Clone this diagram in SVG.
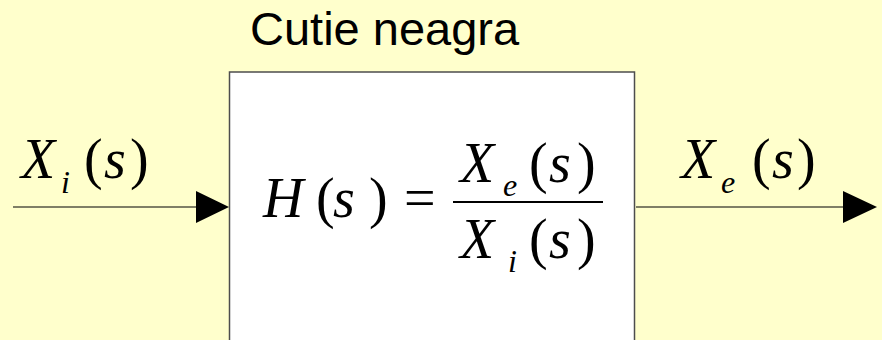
<svg xmlns="http://www.w3.org/2000/svg" width="882" height="340" viewBox="0 0 882 340">
<style>
text.m{font-family:'Liberation Serif','Times New Roman',serif;font-size:56px;fill:#000}
text.it{font-style:italic}
text.sub{font-family:'Liberation Serif','Times New Roman',serif;font-size:32px;font-style:italic;fill:#000}
text.title{font-family:'Liberation Sans',Arial,sans-serif;font-size:47px;fill:#000}
.conn{stroke:#000;stroke-width:1.2;fill:none}
</style>
<rect x="0" y="0" width="882" height="340" fill="#FFFFCC"/>
<g id="title"><text class="title" x="250" y="45">Cutie neagra</text></g>
<g id="box">
<rect x="229.5" y="72" width="405" height="280" fill="#FFFFFF" stroke="#4d4d4d" stroke-width="1.5"/>
<text class="m it" x="263" y="217">H</text>
<text class="m" x="316" y="217">(</text>
<text class="m it" x="333" y="217">s</text>
<text class="m" x="369" y="217">)</text>
<text class="m" x="404" y="217">=</text>
<line x1="453" y1="202" x2="603" y2="202" stroke="#000" stroke-width="2"/>
<text class="m it" x="460" y="182">X</text>
<text class="sub" x="503" y="196">e</text>
<text class="m" x="529" y="182">(</text>
<text class="m it" x="549" y="182">s</text>
<text class="m" x="577" y="182">)</text>
<text class="m it" x="460" y="258">X</text>
<text class="sub" x="508" y="272">i</text>
<text class="m" x="529" y="258">(</text>
<text class="m it" x="549" y="258">s</text>
<text class="m" x="577" y="258">)</text>
</g>
<g id="input-label">
<text class="m it" x="21" y="178">X</text>
<text class="sub" x="61" y="193">i</text>
<text class="m" x="84" y="178">(</text>
<text class="m it" x="104" y="178">s</text>
<text class="m" x="130" y="178">)</text>
</g>
<g id="output-label">
<text class="m it" x="681" y="178">X</text>
<text class="sub" x="721" y="193">e</text>
<text class="m" x="752" y="178">(</text>
<text class="m it" x="772" y="178">s</text>
<text class="m" x="797" y="178">)</text>
</g>
<g id="connectors">
<line class="conn" x1="13" y1="207" x2="197" y2="207"/>
<polygon points="196,191 229,207 196,223" fill="#000"/>
<line class="conn" x1="636" y1="207" x2="844" y2="207"/>
<polygon points="843,191 877,207 843,223" fill="#000"/>
</g>
</svg>
